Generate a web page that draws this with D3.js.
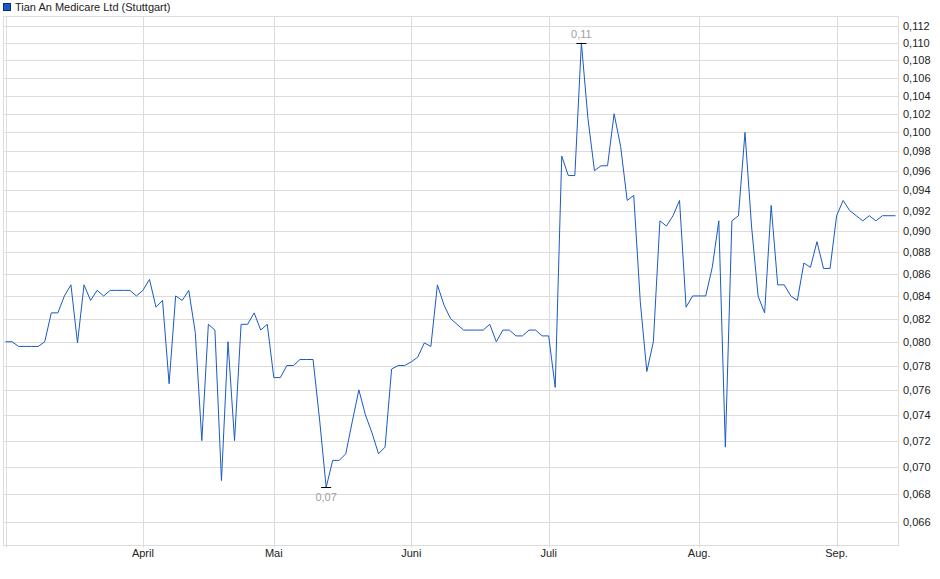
<!DOCTYPE html>
<html>
<head>
<meta charset="utf-8">
<script src="https://cdn.jsdelivr.net/npm/d3@7"></script>
<style>
  body { margin: 0; background: #fff; }
  svg { display: block; font-family: "Liberation Sans", Arial, sans-serif; }
</style>
</head>
<body>
<script>
const title = 'Tian An Medicare Ltd (Stuttgart)'

// one value per trading day
const prices = [
    0.0800, 0.0800, 0.0796, 0.0796, 0.0796, 0.0796, 0.0800, 0.0825, 0.0825, 0.0840,
    0.0850, 0.0799, 0.0850, 0.0836, 0.0845, 0.0840, 0.0845, 0.0845, 0.0845, 0.0845,
    0.0840, 0.0845, 0.0855, 0.0830, 0.0836, 0.0765, 0.0840, 0.0836, 0.0845, 0.0808,
    0.0720, 0.0815, 0.0810, 0.0690, 0.0800, 0.0720, 0.0815, 0.0815, 0.0825, 0.0810,
    0.0815, 0.0770, 0.0770, 0.0780, 0.0780, 0.0785, 0.0785, 0.0785, 0.0736, 0.0685,
    0.0705, 0.0705, 0.0710, 0.0735, 0.0760, 0.0740, 0.0726, 0.0710, 0.0715, 0.0777,
    0.0780, 0.0780, 0.0783, 0.0787, 0.0799, 0.0796, 0.0850, 0.0832, 0.0820, 0.0815,
    0.0810, 0.0810, 0.0810, 0.0810, 0.0815, 0.0800, 0.0810, 0.0810, 0.0805, 0.0805,
    0.0810, 0.0810, 0.0805, 0.0805, 0.0762, 0.0975, 0.0955, 0.0955, 0.1100, 0.1015,
    0.0960, 0.0965, 0.0965, 0.1020, 0.0985, 0.0930, 0.0935, 0.0835, 0.0775, 0.0800,
    0.0910, 0.0905, 0.0915, 0.0930, 0.0830, 0.0840, 0.0840, 0.0840, 0.0866, 0.0910,
    0.0715, 0.0910, 0.0915, 0.1000, 0.0905, 0.0840, 0.0825, 0.0925, 0.0850, 0.0850,
    0.0840, 0.0836, 0.0870, 0.0866, 0.0890, 0.0865, 0.0865, 0.0915, 0.0930, 0.0920,
    0.0915, 0.0910, 0.0915, 0.0910, 0.0915, 0.0915, 0.0915
]

// first trading day of each month (index into prices)
const monthLabels = ['April', 'Mai', 'Juni', 'Juli', 'Aug.', 'Sep.']
const monthIndex = [21, 41, 62, 83, 106, 127]

const yTicks = [0.066, 0.068, 0.070, 0.072, 0.074, 0.076, 0.078, 0.080, 0.082, 0.084, 0.086,
    0.088, 0.090, 0.092, 0.094, 0.096, 0.098, 0.100, 0.102, 0.104, 0.106, 0.108, 0.110, 0.112]

const width = 940, height = 579
const plotLeft = 3.5, plotRight = 898.5, plotTop = 16.5, plotBottom = 545.5
const lineColor = '#1a5ac6'
const gridColor = '#dcdcdc'

const svg = d3.select('body').append('svg')
    .attr('width', width)
    .attr('height', height)

const x = d3.scaleLinear()
    .domain([0, prices.length - 1])
    .range([5.5, 895.5])

const y = d3.scaleLog()
    .domain([0.06442, 0.1132])
    .range([plotBottom - 0.5, plotTop - 0.5])

const fmt = v => d3.format('.3f')(v).replace('.', ',')

// legend / title
svg.append('rect')
    .attr('x', 3.5).attr('y', 3.5)
    .attr('width', 7).attr('height', 7)
    .attr('fill', '#1a5ac6')
    .attr('stroke', '#10306a')
svg.append('text')
    .attr('x', 15).attr('y', 11)
    .attr('font-size', 11)
    .attr('fill', '#222')
    .text(title)

// horizontal grid
svg.append('g')
    .selectAll('line')
    .data(yTicks)
    .enter()
    .append('line')
    .attr('x1', plotLeft).attr('x2', plotRight)
    .attr('y1', d => Math.round(y(d)) + 0.5)
    .attr('y2', d => Math.round(y(d)) + 0.5)
    .attr('stroke', gridColor)

// vertical grid on month starts (and first day)
svg.append('g')
    .selectAll('line')
    .data([0].concat(monthIndex))
    .enter()
    .append('line')
    .attr('x1', d => Math.round(x(d)) + 0.5)
    .attr('x2', d => Math.round(x(d)) + 0.5)
    .attr('y1', plotTop).attr('y2', plotBottom + 2)
    .attr('stroke', gridColor)

// frame
svg.append('rect')
    .attr('x', plotLeft).attr('y', plotTop)
    .attr('width', plotRight - plotLeft).attr('height', plotBottom - plotTop)
    .attr('fill', 'none')
    .attr('stroke', gridColor)

// y labels on the right
svg.append('g')
    .selectAll('text')
    .data(yTicks)
    .enter()
    .append('text')
    .attr('x', 903)
    .attr('y', d => y(d) + 4)
    .attr('font-size', 11)
    .attr('fill', '#222')
    .text(d => fmt(d))

// month labels
svg.append('g')
    .selectAll('text')
    .data(monthIndex)
    .enter()
    .append('text')
    .attr('x', d => x(d))
    .attr('y', 557)
    .attr('text-anchor', 'middle')
    .attr('font-size', 11)
    .attr('fill', '#222')
    .text((d, i) => monthLabels[i])

// price line
const line = d3.line()
    .x((d, i) => x(i))
    .y(d => y(d))

svg.append('path')
    .datum(prices)
    .attr('d', line)
    .attr('fill', 'none')
    .attr('stroke', lineColor)
    .attr('stroke-width', 1)

// min / max markers
const maxI = d3.maxIndex(prices)
const minI = d3.minIndex(prices)

function marker(i, above){
    const px = x(i), py = y(prices[i])
    svg.append('line')
        .attr('x1', px - 5).attr('x2', px + 5)
        .attr('y1', Math.round(py) + 0.5).attr('y2', Math.round(py) + 0.5)
        .attr('stroke', '#000')
    svg.append('text')
        .attr('x', px)
        .attr('y', above ? py - 5 : py + 14)
        .attr('text-anchor', 'middle')
        .attr('font-size', 11)
        .attr('fill', '#a0a0a0')
        .text(d3.format('.2f')(prices[i]).replace('.', ','))
}
marker(maxI, true)
marker(minI, false)
</script>
</body>
</html>
